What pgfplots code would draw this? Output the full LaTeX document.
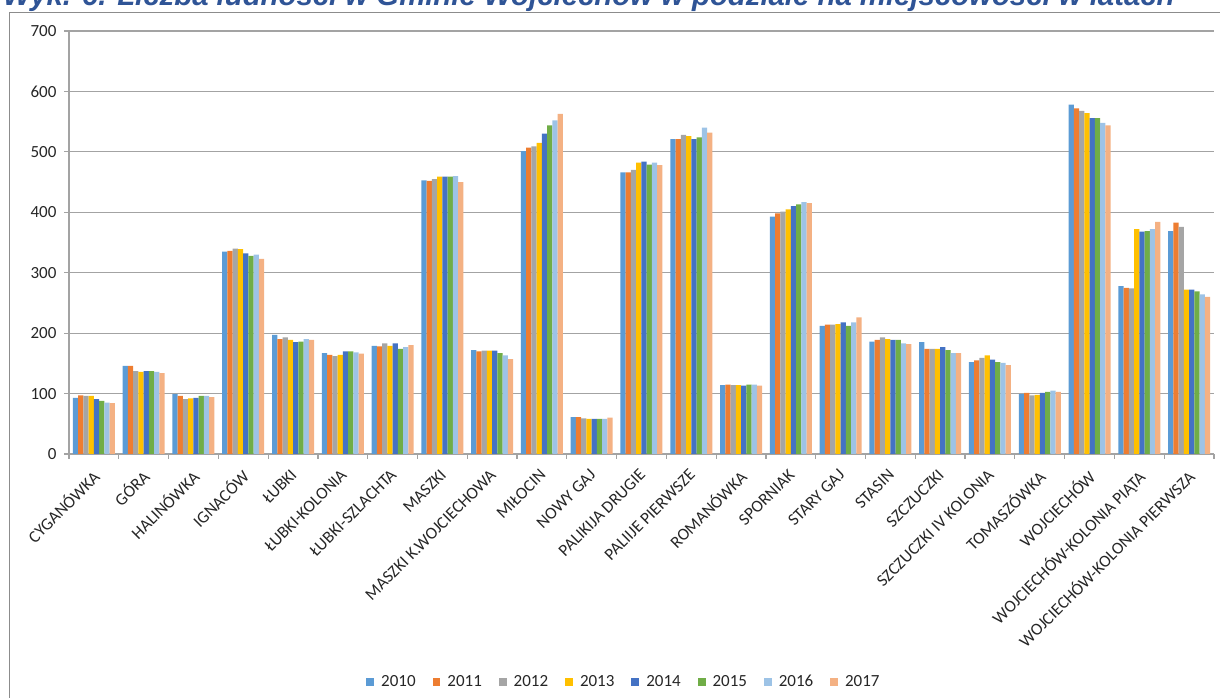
\documentclass[border=0pt]{standalone}
\usepackage{pgfplots}
\pgfplotsset{compat=1.18}
\usepackage{pgfplotstable}
\usepackage{fontspec}
\setmainfont{Carlito}
\newfontfamily\titlefont{Liberation Sans}

\definecolor{c2010}{HTML}{5B9BD5}
\definecolor{c2011}{HTML}{ED7D31}
\definecolor{c2012}{HTML}{A5A5A5}
\definecolor{c2013}{HTML}{FFC000}
\definecolor{c2014}{HTML}{4472C4}
\definecolor{c2015}{HTML}{70AD47}
\definecolor{c2016}{HTML}{9DC3E6}
\definecolor{c2017}{HTML}{F4B183}
\definecolor{gridc}{HTML}{A3A3A3}
\definecolor{framec}{HTML}{8C8C8C}
\definecolor{labelc}{HTML}{262626}
\definecolor{titleblue}{HTML}{2F5496}

% ludnosc wg miejscowosci, 2010-2017
\pgfplotstableread{
x  y2010 y2011 y2012 y2013 y2014 y2015 y2016 y2017
0   93    97    96    96    91    88    85    84
1   146   146   137   136   137   137   136   134
2   99    96    91    92    93    96    96    94
3   335   336   340   339   332   328   330   323
4   197   190   193   189   185   186   190   189
5   167   164   162   164   170   170   168   166
6   179   178   183   179   183   174   177   180
7   453   452   455   459   459   459   460   450
8   172   170   171   171   171   167   163   157
9   501   507   509   515   530   544   552   563
10  61    61    59    58    58    58    58    60
11  466   466   470   482   484   479   482   478
12  521   521   528   526   521   524   540   532
13  114   115   114   114   113   115   115   113
14  393   398   401   405   410   413   417   415
15  212   214   214   215   218   212   218   226
16  186   189   193   190   189   189   183   182
17  185   174   174   174   177   172   167   167
18  152   155   159   163   156   152   151   147
19  99    101   97    98    101   103   105   103
20  578   572   568   564   556   556   548   544
21  278   275   274   372   368   369   372   384
22  369   383   376   272   272   269   264   260
}\data

\begin{document}
\begin{tikzpicture}[x=1pt,y=1pt]
\draw[framec, line width=1.4pt] (9.5pt,0pt) -- (9.5pt,685.5pt) -- (1220pt,685.5pt);
\node[anchor=base west, inner sep=0, text=titleblue] at (3pt,692pt)
  {\resizebox{1171pt}{!}{\titlefont\bfseries\itshape Wyk. 6. Liczba ludności w Gminie Wojciechów w podziale na miejscowości w latach}};

\begin{axis}[
  at={(69pt,244pt)}, anchor=south west,
  scale only axis, width=1145pt, height=423pt,
  xmin=-0.5, xmax=22.5, ymin=0, ymax=700,
  axis x line*=bottom, axis y line*=left,
  axis line style={gridc, line width=1.2pt},
  ytick={0,100,...,700},
  ymajorgrids, grid style={gridc, line width=1.2pt},
  tick align=outside, major tick length=5pt,
  tick style={gridc, line width=1.2pt},
  xtick={-0.5,0.5,1.5,2.5,3.5,4.5,5.5,6.5,7.5,8.5,9.5,10.5,11.5,12.5,13.5,14.5,15.5,16.5,17.5,18.5,19.5,20.5,21.5,22.5},
  x tick label as interval,
  xticklabels={CYGANÓWKA, GÓRA, HALINÓWKA, IGNACÓW, ŁUBKI, ŁUBKI-KOLONIA, ŁUBKI-SZLACHTA, MASZKI, MASZKI K.WOJCIECHOWA, MIŁOCIN, NOWY GAJ, PALIKIJA DRUGIE, PALIIJE PIERWSZE, ROMANÓWKA, SPORNIAK, STARY GAJ, STASIN, SZCZUCZKI, SZCZUCZKI IV KOLONIA, TOMASZÓWKA, WOJCIECHÓW, WOJCIECHÓW-KOLONIA PIĄTA, WOJCIECHÓW-KOLONIA PIERWSZA},
  /pgf/number format/assume math mode=true,
  ticklabel style={font=\fontsize{17}{17}\selectfont, text=labelc},
  xticklabel style={xshift=-3pt, yshift=-9pt, rotate=45, anchor=north east, inner sep=0pt},
  yticklabel style={xshift=-4pt},
  ybar=0pt, bar width=5.25pt,
  legend style={at={(0.4847,-0.539)}, anchor=center, legend columns=-1,
    draw=none, fill=none, font=\fontsize{17}{17}\selectfont, text=labelc,
    /tikz/every odd column/.append style={column sep=5pt},
    /tikz/every even column/.append style={column sep=15pt}},
  legend image code/.code={\fill[#1] (0pt,-3.9pt) rectangle (7.8pt,3.9pt);},
]
\addplot[fill=c2010, draw=none] table[x=x, y=y2010] {\data};
\addplot[fill=c2011, draw=none] table[x=x, y=y2011] {\data};
\addplot[fill=c2012, draw=none] table[x=x, y=y2012] {\data};
\addplot[fill=c2013, draw=none] table[x=x, y=y2013] {\data};
\addplot[fill=c2014, draw=none] table[x=x, y=y2014] {\data};
\addplot[fill=c2015, draw=none] table[x=x, y=y2015] {\data};
\addplot[fill=c2016, draw=none] table[x=x, y=y2016] {\data};
\addplot[fill=c2017, draw=none] table[x=x, y=y2017] {\data};
\legend{2010,2011,2012,2013,2014,2015,2016,2017}
\end{axis}
\pgfresetboundingbox
\useasboundingbox (0pt,0pt) rectangle (1220pt,698pt);
\end{tikzpicture}
\end{document}
